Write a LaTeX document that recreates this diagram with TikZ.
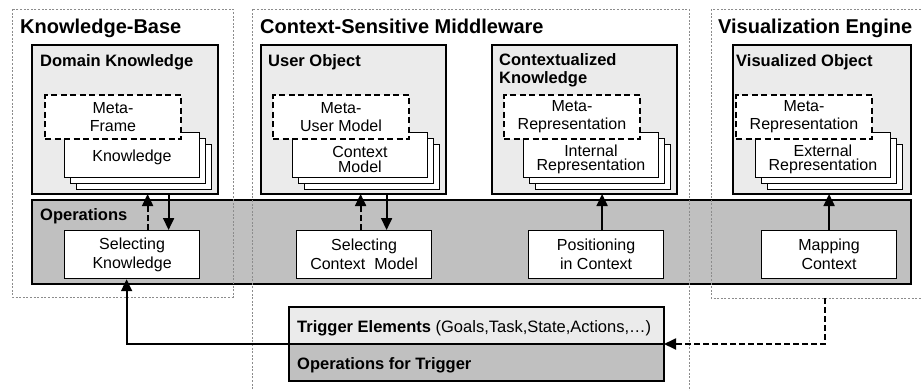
\documentclass[tikz,border=0pt]{standalone}
\usepackage{fontspec}
\setmainfont{Liberation Sans}
\usetikzlibrary{arrows.meta}
\definecolor{panelgray}{HTML}{EBEBEB}
\definecolor{opgray}{HTML}{C0C0C0}
\definecolor{framegray}{HTML}{8C8C8C}

\tikzset{
  group/.style={draw=framegray, line width=1pt, dash pattern=on 2pt off 1.6pt},
  heading/.style={anchor=base west, inner sep=0pt, font=\fontsize{20}{24}\selectfont\bfseries},
  title/.style={anchor=base west, inner sep=0pt, align=left, font=\fontsize{16.5}{17.5}\selectfont\bfseries},
  panel/.style={draw, fill=panelgray, line width=1.5pt, anchor=north west, inner sep=0pt, outer sep=0pt},
  sheet/.style={draw, fill=white, line width=0.9pt, anchor=north west, minimum width=135pt, minimum height=45pt, inner sep=0pt},
  sheettext/.style={align=center, inner sep=0pt, font=\fontsize{16}{14.5}\selectfont},
  metabox/.style={draw, fill=white, line width=2pt, dash pattern=on 6pt off 3.5pt, anchor=north west, minimum width=136pt, minimum height=44pt, align=center, inner sep=0pt, font=\fontsize{16}{18}\selectfont},
  opbox/.style={draw, fill=white, line width=1.2pt, anchor=north west, minimum width=135pt, minimum height=48pt, align=center, inner sep=0pt, font=\fontsize{16}{19}\selectfont},
  flow/.style={-{Triangle[length=12pt,width=11pt]}, line width=1.8pt},
  dashflow/.style={flow, dash pattern=on 6pt off 3pt},
}

\begin{document}
\begin{tikzpicture}[x=1pt, y=-1pt]
\useasboundingbox (0,0) rectangle (922,391);
\clip (0,0) rectangle (922,391);

% inner panels
\node[panel, minimum width=186pt, minimum height=149pt] (dk) at (32,45) {};
\node[title] (dkt) at (40,66) {Domain Knowledge};
\node[panel, minimum width=185pt, minimum height=149pt] (uo) at (261,45) {};
\node[title] (uot) at (268,66) {User Object};
\node[panel, minimum width=185pt, minimum height=149pt] (ck) at (492,45) {};
\node[title, anchor=north west] (ckt) at (499,53.5) {Contextualized\\Knowledge};
\node[panel, minimum width=178pt, minimum height=149pt] (vo) at (733,45) {};
\node[title] (vot) at (736,66) {Visualized Object};

% sheet stacks
\node[sheet] (kn3) at (76,144) {};
\node[sheet] (kn2) at (70,138) {};
\node[sheet] (kn) at (64,132) {};
\node[sheettext] (knt) at ([yshift=-2.5pt]kn.center) {Knowledge};
\node[metabox] (mf) at (44,94) {Meta-\\Frame};

\node[sheet] (cm3) at (304,144) {};
\node[sheet] (cm2) at (298,138) {};
\node[sheet] (cm) at (292,132) {};
\node[sheettext] (cmt) at ([yshift=-4.5pt]cm.center) {Context\\Model};
\node[metabox] (mu) at (272,94) {Meta-\\User Model};

\node[sheet] (ir3) at (535,144) {};
\node[sheet] (ir2) at (529,138) {};
\node[sheet] (ir) at (523,132) {};
\node[sheettext] (irt) at ([yshift=-4.5pt]ir.center) {Internal\\Representation};
\node[metabox] (mri) at (503,94) {Meta-\\Representation};

\node[sheet] (er3) at (767,144) {};
\node[sheet] (er2) at (761,138) {};
\node[sheet] (er) at (755,132) {};
\node[sheettext] (ert) at ([yshift=-4.5pt]er.center) {External\\Representation};
\node[metabox] (mre) at (735,94) {Meta-\\Representation};

% operations band
\node[panel, fill=opgray, minimum width=879pt, minimum height=84pt] (ops) at (32,200) {};
\node[title] (opst) at (40,220) {Operations};
\node[opbox] (sk) at (64,230) {Selecting\\Knowledge};
\node[opbox] (scm) at (296,230) {Selecting\\Context~~Model};
\node[opbox] (pic) at (528,230) {Positioning\\in Context};
\node[opbox] (mc) at (761,230) {Mapping\\Context};

% trigger
\node[panel, line width=1.1pt, minimum width=375pt, minimum height=37pt] (trig) at (289,307) {};
\node[panel, fill=opgray, line width=1.1pt, minimum width=375pt, minimum height=37pt] (optrig) at (289,344) {};
\node[anchor=base west, inner sep=0pt, font=\fontsize{16.5}{18}\selectfont] (trigt) at (297,332)
  {\textbf{Trigger Elements} (Goals,Task,State,Actions,…)};
\node[title] (optrigt) at (297,369) {Operations for Trigger};

% groups
\draw[group] (12,9) rectangle (233,297);
\draw[group] (252,400) |- (689,9) -- (689,400);
\draw[group] (711,9) rectangle (930,298);
\coordinate (vebot) at (825,298);
\node[heading] (kbh) at (20,33) {Knowledge-Base};
\node[heading] (csh) at (260,33) {Context-Sensitive Middleware};
\node[heading] (veh) at (718,33) {Visualization Engine};

% arrows
\draw[dashflow] ([xshift=15.5pt]sk.north) -- ([xshift=15.5pt]sk.north |- dk.south);
\draw[flow] ([xshift=36.5pt]sk.north |- dk.south) -- ([xshift=36.5pt]sk.north);
\draw[dashflow] ([xshift=-3.5pt]scm.north) -- ([xshift=-3.5pt]scm.north |- uo.south);
\draw[flow] ([xshift=22.5pt]scm.north |- uo.south) -- ([xshift=22.5pt]scm.north);
\draw[flow] ([xshift=6pt]pic.north) -- ([xshift=6pt]pic.north |- ck.south);
\draw[flow] (mc.north) -- (mc.north |- vo.south);
\draw[flow] (optrig.north west) -| ([xshift=-5.5pt]sk.south);
\draw[dashflow] (vebot) |- (optrig.north east);
\end{tikzpicture}
\end{document}
